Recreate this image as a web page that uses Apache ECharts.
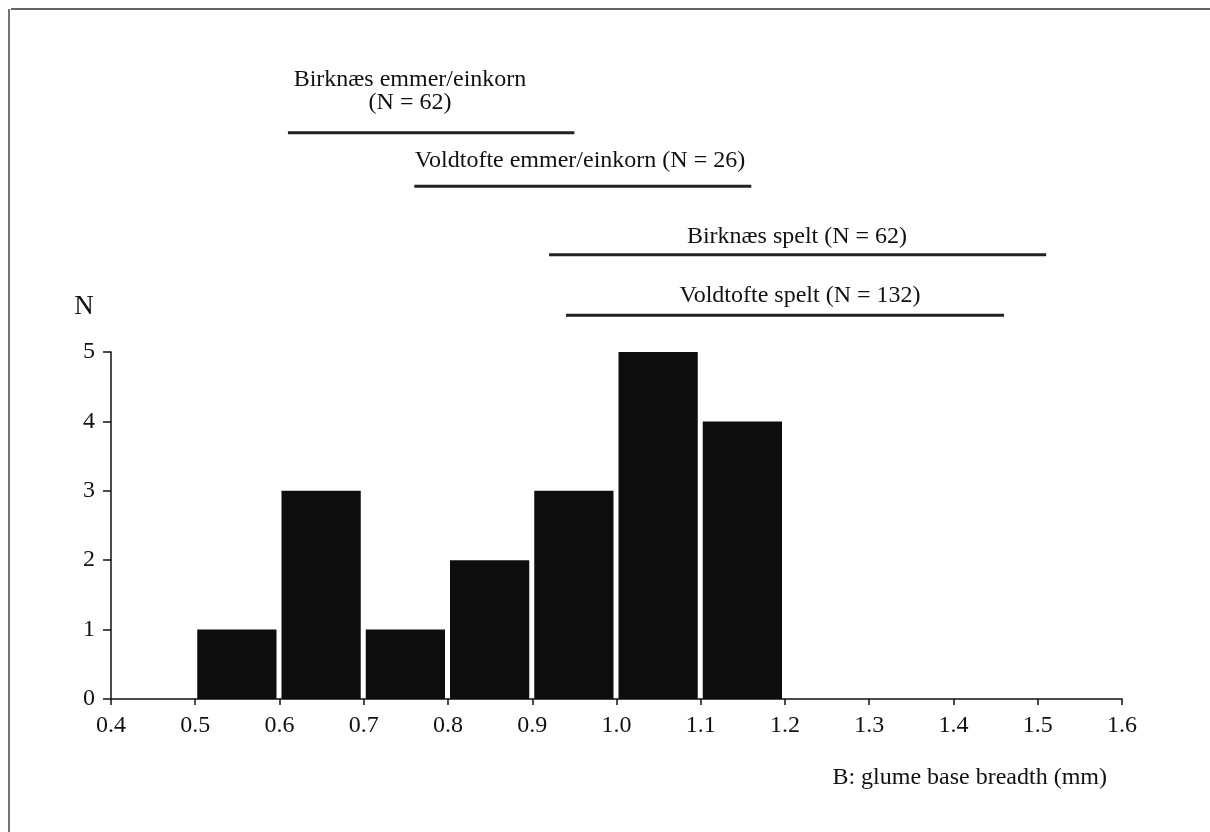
<!DOCTYPE html>
<html>
<head>
<meta charset="utf-8">
<title>Glume base breadth</title>
<script src="https://cdn.jsdelivr.net/npm/echarts@6/dist/echarts.min.js"></script>
<style>
  html, body { margin: 0; padding: 0; background: #fff; }
  #chart { width: 1210px; height: 832px; }
</style>
</head>
<body>
<div id="chart"></div>
<script>
// Histogram bins (mm) and counts
const binStarts = [0.5, 0.6, 0.7, 0.8, 0.9, 1.0, 1.1];
const binEnds   = [0.6, 0.7, 0.8, 0.9, 1.0, 1.1, 1.2];
const counts    = [1, 3, 1, 2, 3, 5, 4];

// Reference size ranges (min, max in mm) for comparison material
const rangeNames = ['Birknæs emmer/einkorn', 'Voldtofte emmer/einkorn (N = 26)', 'Birknæs spelt (N = 62)', 'Voldtofte spelt (N = 132)'];
const rangeMin   = [0.61, 0.76, 0.92, 0.94];
const rangeMax   = [0.95, 1.16, 1.51, 1.46];

// Axis settings
const xMin = 0.4, xMax = 1.6, xStep = 0.1;
const yMin = 0, yMax = 5, yStep = 1;

// Layout: vertical level of each range bar in the upper panel
const rangeLevel = [8.16, 7.39, 6.40, 5.53];

const FONT = '"Liberation Serif", "DejaVu Serif", serif';
const INK = '#111';

const histData = binStarts.map((s, i) => [s, binEnds[i], counts[i]]);

const rangeSeries = rangeMin.map((lo, i) => ({
  name: rangeNames[i],
  type: 'line',
  xAxisIndex: 1,
  yAxisIndex: 1,
  symbol: 'none',
  silent: true,
  animation: false,
  lineStyle: { color: '#222', width: 3 },
  data: [[lo, rangeLevel[i]], [rangeMax[i], rangeLevel[i]]]
}));

function label(x, y, text, size, align) {
  return {
    type: 'text', silent: true,
    style: {
      x: x, y: y, text: text, font: size + 'px ' + FONT, fill: INK,
      textAlign: align || 'center', textVerticalAlign: 'middle'
    }
  };
}

const chart = echarts.init(document.getElementById('chart'));

chart.setOption({
  backgroundColor: '#fff',
  animation: false,
  grid: [
    { left: 111, right: 88, top: 352, bottom: 133 },
    { left: 111, right: 88, top: 5, bottom: 480 }
  ],
  xAxis: [
    {
      type: 'value', gridIndex: 0,
      min: xMin, max: xMax, interval: xStep,
      axisLine: { show: true, lineStyle: { color: INK, width: 1.5 } },
      axisTick: { show: true, length: 6, lineStyle: { color: INK, width: 1.5 } },
      axisLabel: {
        color: INK, fontFamily: FONT, fontSize: 24, margin: 15,
        formatter: v => v.toFixed(1)
      },
      splitLine: { show: false }
    },
    {
      type: 'value', gridIndex: 1, min: xMin, max: xMax,
      show: false
    }
  ],
  yAxis: [
    {
      type: 'value', gridIndex: 0,
      min: yMin, max: yMax, interval: yStep,
      axisLine: { show: true, lineStyle: { color: INK, width: 1.5 } },
      axisTick: { show: true, length: 8, lineStyle: { color: INK, width: 1.5 } },
      axisLabel: { color: INK, fontFamily: FONT, fontSize: 24, margin: 16 },
      splitLine: { show: false }
    },
    {
      type: 'value', gridIndex: 1, min: 5, max: 10,
      show: false
    }
  ],
  series: [
    {
      type: 'custom',
      xAxisIndex: 0,
      yAxisIndex: 0,
      silent: true,
      data: histData,
      encode: { x: [0, 1], y: 2 },
      renderItem: function (params, api) {
        const topLeft = api.coord([api.value(0), api.value(2)]);
        const bottomRight = api.coord([api.value(1), 0]);
        return {
          type: 'rect',
          shape: {
            x: topLeft[0] + 2,
            y: topLeft[1],
            width: bottomRight[0] - topLeft[0] - 5,
            height: bottomRight[1] - topLeft[1]
          },
          style: { fill: '#0d0d0d' }
        };
      }
    }
  ].concat(rangeSeries),
  graphic: [
    // frame lines
    { type: 'line', silent: true, shape: { x1: 11, y1: 9, x2: 1210, y2: 9 }, style: { stroke: '#333', lineWidth: 1.5 } },
    { type: 'line', silent: true, shape: { x1: 9, y1: 9, x2: 9, y2: 832 }, style: { stroke: '#444', lineWidth: 1.5 } },
    // range labels
    label(410, 80, rangeNames[0], 24),
    label(410, 103, '(N = 62)', 24),
    label(580, 161, rangeNames[1], 24),
    label(797, 237, rangeNames[2], 24),
    label(800, 296, rangeNames[3], 24),
    // axis titles
    label(84, 307, 'N', 27),
    label(1107, 778, 'B: glume base breadth (mm)', 24, 'right')
  ]
});
</script>
</body>
</html>
